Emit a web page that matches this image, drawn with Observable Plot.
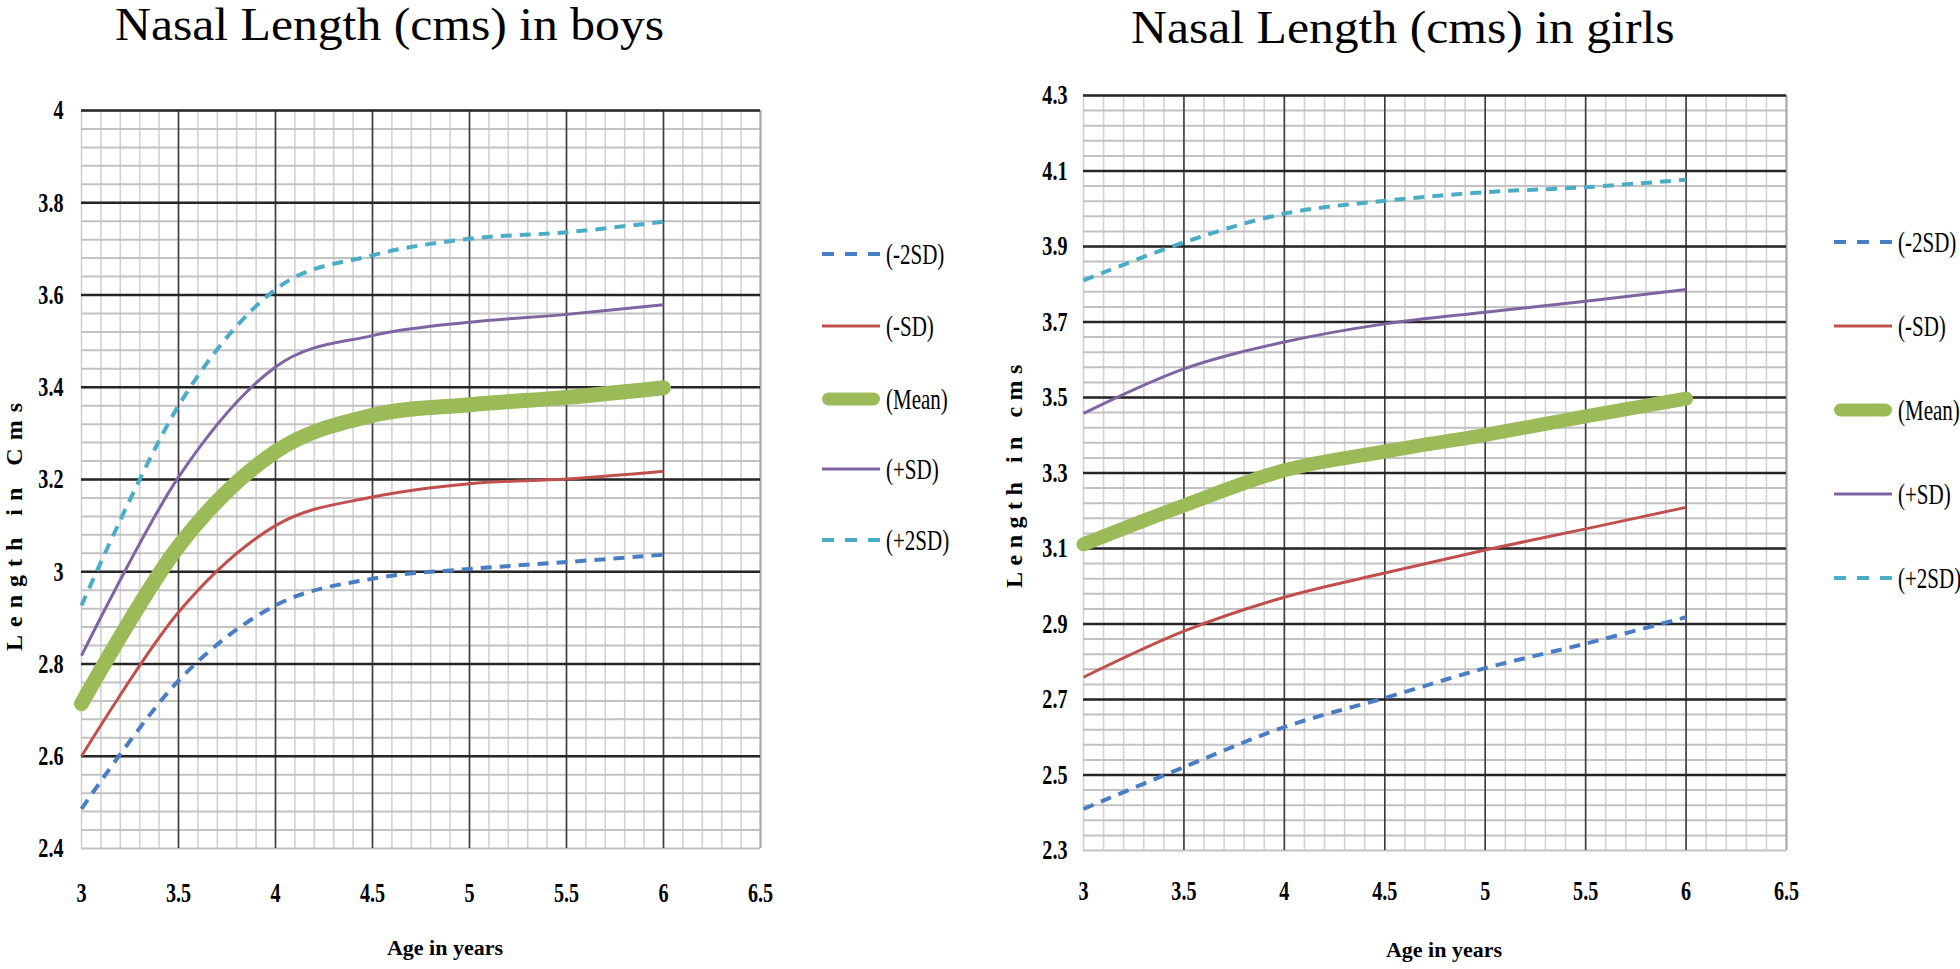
<!DOCTYPE html>
<html><head><meta charset="utf-8">
<script src="https://cdn.jsdelivr.net/npm/d3@7"></script>
<script src="https://cdn.jsdelivr.net/npm/@observablehq/plot@0.6"></script>
<style>
body{margin:0;background:#fff;}
#root{position:relative;width:1960px;height:969px;overflow:hidden;font-family:"Liberation Serif","Times New Roman",serif;color:#000;}
.chart{position:absolute;top:0;}
.title{position:absolute;font-size:46px;line-height:1;white-space:nowrap;transform-origin:left top;}
.xlab{position:absolute;font-size:22px;font-weight:bold;line-height:1;white-space:nowrap;transform:translate(-50%,0);}
.ylab{position:absolute;font-size:24px;font-weight:bold;line-height:1;white-space:nowrap;transform:translate(-50%,-50%) rotate(-90deg);}
.leg{position:absolute;height:30px;white-space:nowrap;}
.leg svg{position:absolute;left:0;top:0;}
.leg span{position:absolute;top:0;font-size:30px;line-height:30px;transform:scaleX(0.7);transform-origin:left center;}
</style></head><body><div id="root"></div>
<script>
// ---- data ----
const ages = [3, 3.5, 4, 4.5, 5, 5.5, 6];
const seriesNames = ["(-2SD)", "(-SD)", "(Mean)", "(+SD)", "(+2SD)"];
const seriesColors = ["#4A7EC4", "#C0504D", "#9BBB59", "#8064A2", "#4BACC6"];

const boysMinus2SD = [2.486, 2.764, 2.927, 2.985, 3.006, 3.021, 3.037];
const boysMinusSD  = [2.600, 2.912, 3.100, 3.162, 3.191, 3.201, 3.218];
const boysMean     = [2.714, 3.055, 3.260, 3.339, 3.362, 3.378, 3.399];
const boysPlusSD   = [2.818, 3.205, 3.444, 3.512, 3.541, 3.558, 3.579];
const boysPlus2SD  = [2.927, 3.360, 3.612, 3.686, 3.722, 3.736, 3.759];

const girlsMinus2SD = [2.410, 2.521, 2.627, 2.704, 2.783, 2.848, 2.918];
const girlsMinusSD  = [2.759, 2.881, 2.971, 3.035, 3.096, 3.152, 3.209];
const girlsMean     = [3.111, 3.214, 3.307, 3.357, 3.401, 3.450, 3.497];
const girlsPlusSD   = [3.458, 3.576, 3.647, 3.695, 3.726, 3.755, 3.786];
const girlsPlus2SD  = [3.810, 3.911, 3.987, 4.021, 4.044, 4.057, 4.077];

const xTicks = [3, 3.5, 4, 4.5, 5, 5.5, 6, 6.5];
const boysYTicks = [2.4, 2.6, 2.8, 3, 3.2, 3.4, 3.6, 3.8, 4];
const girlsYTicks = [2.3, 2.5, 2.7, 2.9, 3.1, 3.3, 3.5, 3.7, 3.9, 4.1, 4.3];

const boysTitle = "Nasal Length (cms) in boys";
const girlsTitle = "Nasal Length (cms) in girls";
const boysYLabel = "Length in Cms";
const girlsYLabel = "Length in cms";
const xLabel = "Age in years";

// ---- styles per series ----
const seriesStyle = [
  {w: 4, dash: "11,8"},
  {w: 3, dash: null},
  {w: 15, dash: null},
  {w: 3, dash: null},
  {w: 4, dash: "11,8"}
];

function toRows(values) { return ages.map((a, i) => ({age: a, value: values[i]})); }

function makeChart(cfg) {
  const [y0, y1] = [cfg.yTicks[0], cfg.yTicks[cfg.yTicks.length - 1]];
  const nY = Math.round((y1 - y0) / 0.04);
  const yMinor = d3.range(nY + 1).map(i => +(y0 + i * 0.04).toFixed(2));
  const xMinor = d3.range(36).map(i => +(3 + i * 0.1).toFixed(1));
  const marks = [
    Plot.ruleX(xMinor, {stroke: "#d2d2d2", strokeWidth: 1.6}),
    Plot.ruleY(yMinor, {stroke: "#c2c2c2", strokeWidth: 2}),
    Plot.ruleX([6.5], {stroke: "#a8a8a8", strokeWidth: 2}),
    Plot.ruleX(xTicks.slice(1, -1), {stroke: "#3c3c3c", strokeWidth: 1.6}),
    Plot.ruleY(cfg.yTicks.slice(1), {stroke: "#262626", strokeWidth: 2.4})
  ];
  cfg.series.forEach((vals, i) => {
    const st = seriesStyle[i];
    const o = {x: "age", y: "value", stroke: seriesColors[i], strokeWidth: i === 2 ? cfg.meanW : st.w, curve: "cardinal", tension: 0, strokeLinecap: i === 2 ? "round" : "butt"};
    if (st.dash) o.strokeDasharray = st.dash;
    marks.push(Plot.line(toRows(vals), o));
  });
  const svg = Plot.plot({
    width: 980, height: 969,
    marginLeft: cfg.ml, marginRight: cfg.mr, marginTop: cfg.mt, marginBottom: cfg.mb,
    x: {domain: [3, 6.5], ticks: xTicks, tickSize: 0, tickPadding: cfg.xPad, tickFormat: d => String(d), label: null},
    y: {domain: [y0, y1], ticks: cfg.yTicks, tickSize: 0, tickPadding: cfg.yPad, tickFormat: d => String(d), label: null},
    style: {fontFamily: '"Liberation Serif","Times New Roman",serif', fontSize: "28px", fontWeight: "bold", background: "transparent", overflow: "visible", color: "#000"},
    marks
  });
  svg.querySelectorAll("text").forEach(t => {
    t.setAttribute("font-size", "28");
    t.style.fontSize = "28px";
    t.style.fontWeight = "bold";
    t.style.fontFamily = '"Liberation Serif","Times New Roman",serif';
    const tr = t.getAttribute("transform");
    if (tr) t.setAttribute("transform", tr + " scale(0.72,1)");
    else {
      const x = +t.getAttribute("x") || 0, y = +t.getAttribute("y") || 0;
      t.removeAttribute("x"); t.removeAttribute("y");
      t.setAttribute("transform", `translate(${x},${y}) scale(0.72,1)`);
    }
  });
  svg.classList.add("chart");
  svg.style.left = cfg.left + "px";
  return svg;
}

const root = document.getElementById("root");

root.appendChild(makeChart({
  left: 0, ml: 81, mr: 220, mt: 110, mb: 121, xPad: 34, yPad: 18, meanW: 15,
  yTicks: boysYTicks,
  series: [boysMinus2SD, boysMinusSD, boysMean, boysPlusSD, boysPlus2SD]
}));
root.appendChild(makeChart({
  left: 980, ml: 103, mr: 174, mt: 95, mb: 119, xPad: 30, yPad: 16, meanW: 14,
  yTicks: girlsYTicks,
  series: [girlsMinus2SD, girlsMinusSD, girlsMean, girlsPlusSD, girlsPlus2SD]
}));

function addDiv(cls, text, css) {
  const d = document.createElement("div");
  d.className = cls; d.textContent = text;
  Object.assign(d.style, css);
  root.appendChild(d);
  return d;
}
addDiv("title", boysTitle, {left: "115px", top: "2px", transform: "scaleX(1.08)"});
addDiv("title", girlsTitle, {left: "1131px", top: "5px", transform: "scaleX(1.08)"});
addDiv("xlab", xLabel, {left: "445px", top: "937px"});
addDiv("xlab", xLabel, {left: "1444px", top: "939px"});
addDiv("ylab", boysYLabel, {left: "14px", top: "523px", letterSpacing: "8px"});
addDiv("ylab", girlsYLabel, {left: "1014px", top: "473px", letterSpacing: "6.5px"});

function addLegend(x, ys, meanW) {
  seriesNames.forEach((name, i) => {
    const d = document.createElement("div");
    d.className = "leg";
    d.style.left = x + "px";
    d.style.top = (ys[i] - 15) + "px";
    const st = seriesStyle[i];
    const w = i === 2 ? meanW : st.w;
    const cap = i === 2 ? "round" : "butt";
    const inset = i === 2 ? meanW / 2 : 0;
    d.innerHTML = `<svg width="62" height="30"><line x1="${inset}" y1="15" x2="${58 - inset}" y2="15" stroke="${seriesColors[i]}" stroke-width="${w}" stroke-linecap="${cap}" ${st.dash ? `stroke-dasharray="12,11"` : ""}/></svg><span style="left:64px">${name}</span>`;
    root.appendChild(d);
  });
}
addLegend(822, [254, 326, 399, 469, 540], 13);
addLegend(1834, [242, 326, 410, 494, 578], 13);
</script>
</body></html>
